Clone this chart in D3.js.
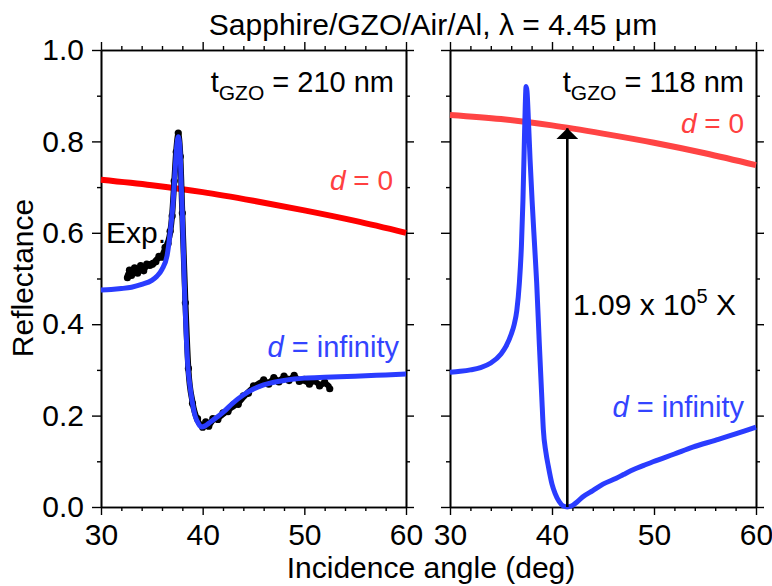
<!DOCTYPE html>
<html>
<head>
<meta charset="utf-8">
<script src="https://cdn.jsdelivr.net/npm/d3@7"></script>
<style>
  body { margin: 0; background: #fff; }
  svg text { font-family: "Liberation Sans", Arial, sans-serif; }
</style>
</head>
<body>
<svg id="chart" width="772" height="586"></svg>
<script>
// angle (deg) / reflectance pairs
const leftFlatAngle = [30, 35, 40, 45, 50, 55, 60];
const leftFlatR = [0.716, 0.704, 0.689, 0.670, 0.649, 0.626, 0.600];

const leftInfAngle = [30, 31, 32, 33, 34, 35, 35.5, 36, 36.5, 36.8, 37.1, 37.3, 37.45, 37.6, 37.75, 37.9, 38.0, 38.25, 38.55, 38.75, 38.95, 39.25, 39.6, 39.9, 40.2, 40.6, 41.0, 41.5, 42, 43, 44, 45, 46, 47, 48, 49, 50, 52, 55, 58, 60];
const leftInfR = [0.475, 0.476, 0.478, 0.481, 0.487, 0.496, 0.505, 0.52, 0.55, 0.60, 0.67, 0.74, 0.79, 0.81, 0.79, 0.70, 0.64, 0.453, 0.306, 0.265, 0.234, 0.20, 0.182, 0.175, 0.177, 0.183, 0.19, 0.198, 0.207, 0.228, 0.245, 0.258, 0.267, 0.273, 0.277, 0.280, 0.282, 0.284, 0.286, 0.289, 0.291];

const expAngle = [32.6, 32.8, 33.0, 33.3, 33.6, 33.9, 34.2, 34.5, 34.8, 35.1, 35.4, 35.7, 36.0, 36.3, 36.6, 36.8, 37.0, 37.2, 37.4, 37.6, 37.8, 38.0, 38.3, 38.6, 39.0, 39.5, 40.0, 40.3, 40.6, 41.0, 41.5, 42, 42.5, 43, 43.5, 44, 44.5, 45, 45.5, 46, 46.5, 47, 47.5, 48, 48.5, 49, 49.5, 50, 50.5, 51, 51.5, 52, 52.5];
const expR = [0.505, 0.515, 0.51, 0.52, 0.515, 0.525, 0.52, 0.528, 0.532, 0.53, 0.54, 0.545, 0.55, 0.565, 0.58, 0.60, 0.64, 0.71, 0.78, 0.815, 0.77, 0.64, 0.45, 0.30, 0.23, 0.19, 0.178, 0.183, 0.18, 0.19, 0.195, 0.203, 0.212, 0.22, 0.228, 0.24, 0.252, 0.262, 0.27, 0.275, 0.272, 0.28, 0.277, 0.283, 0.28, 0.285, 0.278, 0.276, 0.272, 0.275, 0.268, 0.27, 0.262];

const rightFlatAngle = [30, 35, 40, 45, 50, 55, 60];
const rightFlatR = [0.858, 0.849, 0.835, 0.817, 0.797, 0.774, 0.748];

const rightInfAngle = [30, 31, 32, 33, 34, 35, 35.5, 36, 36.3, 36.55, 36.8, 37.0, 37.15, 37.28, 37.38, 37.46, 37.55, 37.7, 37.85, 38.05, 38.3, 38.5, 38.75, 39.0, 39.15, 39.4, 39.65, 40.0, 40.3, 40.7, 41.1, 41.5, 41.9, 42.4, 43, 44, 45, 46.3, 47, 48, 49, 49.9, 52, 53.8, 56, 58, 60];
const rightInfR = [0.295, 0.297, 0.300, 0.305, 0.315, 0.335, 0.352, 0.378, 0.40, 0.43, 0.49, 0.57, 0.67, 0.79, 0.88, 0.92, 0.91, 0.84, 0.76, 0.67, 0.57, 0.49, 0.36, 0.24, 0.17, 0.12, 0.088, 0.05, 0.03, 0.012, 0.002, 0, 0.002, 0.01, 0.022, 0.036, 0.05, 0.063, 0.071, 0.082, 0.091, 0.099, 0.116, 0.131, 0.146, 0.16, 0.175];

const arrowAngle = 41.5;
const arrowTop = 0.829;

const xMajor = [30, 40, 50, 60];
const xMinor = [32, 34, 36, 38, 42, 44, 46, 48, 52, 54, 56, 58];
const yMajor = [0.0, 0.2, 0.4, 0.6, 0.8, 1.0];
const yMinor = [0.1, 0.3, 0.5, 0.7, 0.9];

const zip = (a, b) => a.map((v, i) => [v, b[i]]);

const svg = d3.select("#chart");
const plotTop = 50, plotBottom = 507;
const tickFont = 30, labelFont = 29, titleFont = 30;

const y = d3.scaleLinear().domain([0, 1]).range([plotBottom, plotTop]);

const panels = [
  { x0: 101, x1: 406, labels: true },
  { x0: 450, x1: 756, labels: false }
];

panels.forEach(p => {
  p.x = d3.scaleLinear().domain([30, 60]).range([p.x0, p.x1]);
  const g = svg.append("g");

  const addAxis = (axisFn, scale, vals, size, pad, tf, transform) => {
    const a = g.append("g")
      .attr("transform", transform)
      .call(axisFn(scale).tickValues(vals).tickSize(size).tickSizeOuter(0).tickPadding(pad).tickFormat(tf));
    a.select(".domain").attr("stroke-width", 1.6);
    a.selectAll(".tick line").attr("stroke-width", 1.4);
    a.selectAll("text").style("font-size", tickFont + "px").attr("fill", "#000");
    return a;
  };
  const none = () => "";

  addAxis(d3.axisBottom, p.x, xMajor, 8, 9, d3.format("d"), `translate(0,${plotBottom})`);
  addAxis(d3.axisBottom, p.x, xMinor, 4, 0, none, `translate(0,${plotBottom})`);
  addAxis(d3.axisTop, p.x, xMajor, 8, 0, none, `translate(0,${plotTop})`);
  addAxis(d3.axisTop, p.x, xMinor, 4, 0, none, `translate(0,${plotTop})`);
  addAxis(d3.axisLeft, y, yMajor, 9, 8, p.labels ? d3.format(".1f") : none, `translate(${p.x0},0)`);
  addAxis(d3.axisLeft, y, yMinor, 4, 0, none, `translate(${p.x0},0)`);
  addAxis(d3.axisRight, y, yMajor, 8, 0, none, `translate(${p.x1},0)`);
  addAxis(d3.axisRight, y, yMinor, 4, 0, none, `translate(${p.x1},0)`);

  p.line = d3.line().x(d => p.x(d[0])).y(d => y(d[1])).curve(d3.curveMonotoneX);
  p.g = g;
});

const [L, R] = panels;

// left panel
L.g.append("path").datum(zip(leftFlatAngle, leftFlatR))
  .attr("d", L.line).attr("fill", "none").attr("stroke", "#ff0000").attr("stroke-width", 6);

L.g.append("path").datum(zip(expAngle, expR))
  .attr("d", L.line).attr("fill", "none").attr("stroke", "#000").attr("stroke-width", 6)
  .attr("stroke-linejoin", "round");
L.g.selectAll(".exp").data(zip(expAngle, expR)).enter().append("circle")
  .attr("class", "exp")
  .attr("cx", d => L.x(d[0])).attr("cy", (d, i) => y(d[1]) + (i % 2 ? -1.5 : 1.5))
  .attr("r", 3.6).attr("fill", "#000");

L.g.append("path").datum(zip(leftInfAngle, leftInfR))
  .attr("d", L.line).attr("fill", "none").attr("stroke", "#2a3cff").attr("stroke-width", 5)
  .attr("stroke-linejoin", "round");

// right panel
R.g.append("path").datum(zip(rightFlatAngle, rightFlatR))
  .attr("d", R.line).attr("fill", "none").attr("stroke", "#ff4444").attr("stroke-width", 6);

R.g.append("path").datum(zip(rightInfAngle, rightInfR))
  .attr("d", R.line).attr("fill", "none").attr("stroke", "#2a3cff").attr("stroke-width", 5)
  .attr("stroke-linejoin", "round");

svg.append("defs").append("marker")
  .attr("id", "head").attr("viewBox", "0 0 10 20").attr("refX", 10).attr("refY", 10)
  .attr("markerUnits", "userSpaceOnUse").attr("markerWidth", 11).attr("markerHeight", 22)
  .attr("orient", "auto")
  .append("path").attr("d", "M0,0 L10,10 L0,20 Z").attr("fill", "#000");

R.g.append("line")
  .attr("x1", R.x(arrowAngle)).attr("x2", R.x(arrowAngle))
  .attr("y1", y(0)).attr("y2", y(arrowTop))
  .attr("stroke", "#000").attr("stroke-width", 2.6)
  .attr("marker-end", "url(#head)");

// texts
const txt = (x, yy, s, opts = {}) => svg.append("text")
  .attr("x", x).attr("y", yy)
  .attr("text-anchor", opts.anchor || "start")
  .attr("fill", opts.fill || "#000")
  .style("font-size", (opts.size || labelFont) + "px")
  .text(s);

txt(433, 35, "Sapphire/GZO/Air/Al, λ = 4.45 μm", { anchor: "middle", size: titleFont });

const thick = (x, label) => {
  const t = svg.append("text").attr("x", x).attr("y", 92).attr("text-anchor", "end")
    .style("font-size", labelFont + "px");
  t.append("tspan").text("t");
  t.append("tspan").text("GZO").attr("dy", 8).style("font-size", "21px");
  t.append("tspan").text(" = " + label).attr("dy", -8);
};
thick(394, "210 nm");
thick(744, "118 nm");

const dLabel = (x, yy, rest, fill, size) => {
  const t = svg.append("text").attr("x", x).attr("y", yy).attr("text-anchor", "end")
    .attr("fill", fill).style("font-size", size + "px");
  t.append("tspan").text("d").style("font-style", "italic");
  t.append("tspan").text(rest);
};
dLabel(393, 190, " = 0", "#ff4040", 28);
dLabel(744, 133, " = 0", "#ff4040", 28);
dLabel(399, 357, " = infinity", "#3344ff", 29);
dLabel(744, 417, " = infinity", "#3344ff", 29);

txt(106, 243, "Exp.", { size: 30 });

const ann = svg.append("text").attr("x", 573).attr("y", 315).style("font-size", "30px");
ann.append("tspan").text("1.09 x 10");
ann.append("tspan").text("5").attr("dy", -12).style("font-size", "20px");
ann.append("tspan").text(" X").attr("dy", 12);

txt(431, 578, "Incidence angle (deg)", { anchor: "middle", size: titleFont });
svg.append("text")
  .attr("transform", "translate(33,278) rotate(-90)")
  .attr("text-anchor", "middle")
  .style("font-size", titleFont + "px")
  .text("Reflectance");
</script>
</body>
</html>
